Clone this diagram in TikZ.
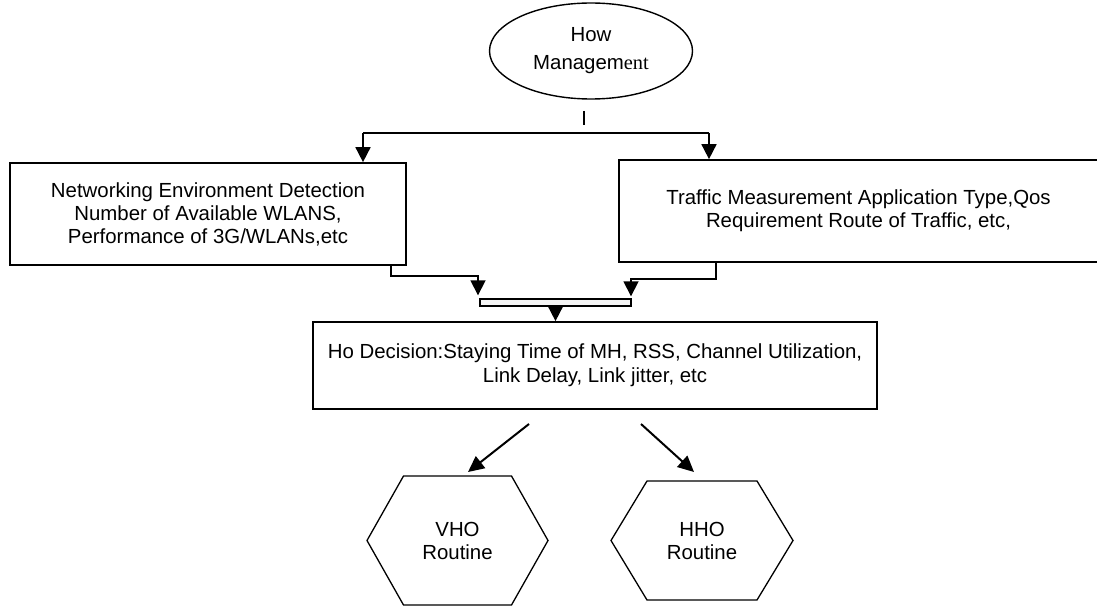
\documentclass[tikz,border=0pt]{standalone}
\usepackage{fontspec}
\setmainfont{Liberation Sans}
\newfontfamily\serifent{Liberation Serif}
\usetikzlibrary{shapes.geometric,arrows.meta,calc}
\begin{document}
\begin{tikzpicture}[x=1pt,y=-1pt,
  every node/.style={font=\fontsize{20.4}{23}\selectfont, align=center, inner sep=0pt},
  box/.style={draw, line width=1.7pt},
  ln/.style={line width=1.7pt},
  arr/.style={line width=1.7pt, -{Triangle[width=15pt,length=15pt]}},
  harr/.style={line width=2pt, -{Triangle[width=15pt,length=16pt]}},
  hexa/.style={draw, line width=1.3pt, line join=miter}]
\useasboundingbox (0,0) rectangle (1097,607);
\clip (0,0) rectangle (1097,607);

% top ellipse
\node[ellipse, draw, line width=1.4pt, minimum width=203pt, minimum height=96pt,
      font=\fontsize{20.4}{28}\selectfont] (hm) at (591,51) {How\\Managem{\serifent ent}};
\coordinate (tk1) at (584,111);
\coordinate (tk2) at (584,125);
\draw[line width=1.3pt] (tk1) -- (tk2);

% boxes
\node[box, minimum width=396pt, minimum height=102pt] (lbox) at (208,214)
  {Networking Environment Detection\\Number of Available WLANS,\\Performance of 3G/WLANs,etc};
\node[box, minimum width=479pt, minimum height=102pt] (rbox) at (858.5,211)
  {Traffic Measurement Application Type,Qos\\Requirement Route of Traffic, etc,};
\node[draw, line width=1.4pt, fill=gray!8, minimum width=151pt, minimum height=7pt] (bar) at (555.5,302.5) {};
\node[box, minimum width=564pt, minimum height=87pt, font=\fontsize{20.4}{24}\selectfont] (ho) at (595,365.5)
  {Ho Decision:Staying Time of MH, RSS, Channel Utilization,\\Link Delay, Link jitter, etc};

% hexagons
\node (vho) at (457.5,540.5) {VHO\\Routine};
\node (hho) at (702,540.5) {HHO\\Routine};
\draw[hexa] ($(vho)+(-90.5,0)$) -- ($(vho)+(-54,-64.5)$) -- ($(vho)+(54,-64.5)$) -- ($(vho)+(90.5,0)$)
  -- ($(vho)+(54,64.5)$) -- ($(vho)+(-54,64.5)$) -- cycle;
\draw[hexa] ($(hho)+(-91,0)$) -- ($(hho)+(-55,-59.5)$) -- ($(hho)+(55,-59.5)$) -- ($(hho)+(91,0)$)
  -- ($(hho)+(55,59.5)$) -- ($(hho)+(-55,59.5)$) -- cycle;

% top connectors
\coordinate (tl) at (363,133);
\coordinate (tr) at (709,133);
\draw[ln] (tl) -- (tr);
\draw[arr] (tl) -- (tl |- lbox.north);
\draw[arr] (tr) -- (tr |- rbox.north);

% to bar
\coordinate (l1) at (391,276);
\coordinate (l2) at (478,276);
\draw[arr, shorten >=3pt] (lbox.south -| l1) -- (l1) -- (l2) -- (l2 |- bar.north);
\coordinate (r1) at (716,279);
\coordinate (r2) at (631,279);
\draw[arr, shorten >=2pt] (rbox.south -| r1) -- (r1) -- (r2) -- (r2 |- bar.north);
\draw[arr] (bar.south) -- (bar.south |- ho.north);

% to hexagons
\coordinate (a1) at (529,424);
\coordinate (a2) at (468,472);
\coordinate (b1) at (641,424);
\coordinate (b2) at (694,472);
\draw[harr] (a1) -- (a2);
\draw[harr] (b1) -- (b2);
\end{tikzpicture}
\end{document}
